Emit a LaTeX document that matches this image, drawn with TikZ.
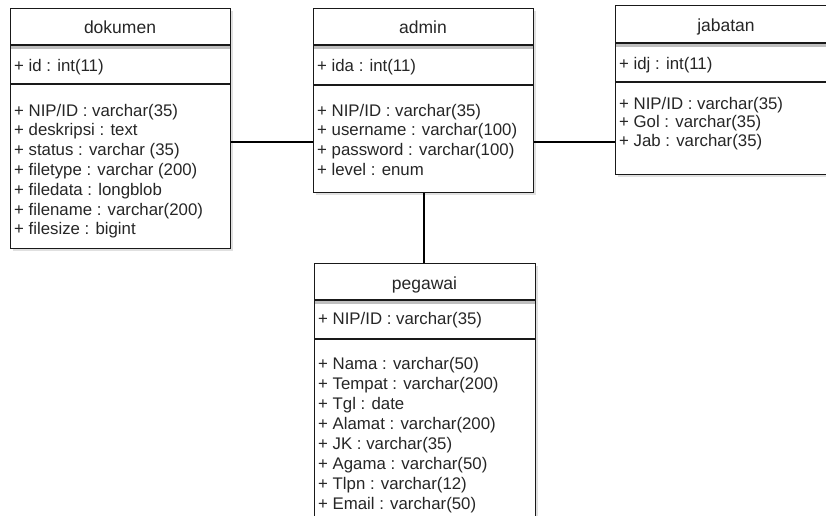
\documentclass[tikz,border=0pt]{standalone}
\usepackage{fontspec}
\setmainfont{Liberation Sans}
\begin{document}
\begin{tikzpicture}[x=1pt,y=-1pt,
  box/.style={draw=black!90, line width=1.2pt, fill=white, rectangle, anchor=north west, inner sep=0pt},
  shadowbox/.style={fill=black!12, draw=none, rectangle, anchor=north west, inner sep=0pt},
  divider/.style={draw=black!90, line width=1.2pt},
  hshadow/.style={draw=black!25, line width=2.5pt},
  title/.style={anchor=base, inner sep=0pt, font=\fontsize{17.5}{20}\selectfont, text=black!85},
  attr/.style={anchor=base west, inner sep=0pt, font=\fontsize{16.8}{20}\selectfont, text=black!85},
  link/.style={draw=black, line width=1.2pt}
]
\clip (0,0) rectangle (826,515);
\fill[white] (0,0) rectangle (826,515);

% shadows
\node[shadowbox, minimum width=220pt, minimum height=240pt] (dokS) at (13,11) {};
\node[shadowbox, minimum width=220pt, minimum height=184pt] (admS) at (316,11) {};
\node[shadowbox, minimum width=230pt, minimum height=169pt] (jabS) at (618,8) {};
\node[shadowbox, minimum width=221pt, minimum height=270pt] (pegS) at (317,266) {};

% boxes
\node[box, minimum width=220pt, minimum height=240pt] (dok) at (10,8) {};
\node[box, minimum width=220pt, minimum height=184pt] (adm) at (313,8) {};
\node[box, minimum width=230pt, minimum height=169pt] (jab) at (615,5) {};
\node[box, minimum width=221pt, minimum height=270pt] (peg) at (314,263) {};

% header shadows
\draw[hshadow] ([xshift=1pt]dok.west |- 0,47.5) -- ([xshift=-1pt]dok.east |- 0,47.5);
\draw[hshadow] ([xshift=1pt]adm.west |- 0,47.5) -- ([xshift=-1pt]adm.east |- 0,47.5);
\draw[hshadow] ([xshift=1pt]jab.west |- 0,45.5) -- ([xshift=-1pt]jab.east |- 0,45.5);
\draw[hshadow] ([xshift=1pt]peg.west |- 0,302.5) -- ([xshift=-1pt]peg.east |- 0,302.5);

% dividers
\draw[divider] (dok.west |- 0,45) -- (dok.east |- 0,45);
\draw[divider] (dok.west |- 0,84) -- (dok.east |- 0,84);
\draw[divider] (adm.west |- 0,45) -- (adm.east |- 0,45);
\draw[divider] (adm.west |- 0,85) -- (adm.east |- 0,85);
\draw[divider] (jab.west |- 0,43) -- (jab.east |- 0,43);
\draw[divider] (jab.west |- 0,82) -- (jab.east |- 0,82);
\draw[divider] (peg.west |- 0,300) -- (peg.east |- 0,300);
\draw[divider] (peg.west |- 0,339) -- (peg.east |- 0,339);

% dokumen
\node[title] (dokT) at (120,33) {dokumen};
\node[attr] (dok0) at (14,71) {+ id : int(11)};
\node[attr] (dok1) at (14,116) {+ NIP/ID : varchar(35)};
\node[attr] (dok2) at (14,135.8) {+ deskripsi : text};
\node[attr] (dok3) at (14,155.6) {+ status : varchar (35)};
\node[attr] (dok4) at (14,175.4) {+ filetype : varchar (200)};
\node[attr] (dok5) at (14,195.2) {+ filedata : longblob};
\node[attr] (dok6) at (14,215) {+ filename : varchar(200)};
\node[attr] (dok7) at (14,234.8) {+ filesize : bigint};

% admin
\node[title] (admT) at (423,33) {admin};
\node[attr] (adm0) at (317,71) {+ ida : int(11)};
\node[attr] (adm1) at (317,116) {+ NIP/ID : varchar(35)};
\node[attr] (adm2) at (317,135.8) {+ username : varchar(100)};
\node[attr] (adm3) at (317,155.6) {+ password : varchar(100)};
\node[attr] (adm4) at (317,175.4) {+ level : enum};

% jabatan
\node[title] (jabT) at (726,31) {jabatan};
\node[attr] (jab0) at (619,69) {+ idj : int(11)};
\node[attr] (jab1) at (619,109) {+ NIP/ID : varchar(35)};
\node[attr] (jab2) at (619,127.5) {+ Gol : varchar(35)};
\node[attr] (jab3) at (619,146) {+ Jab : varchar(35)};

% pegawai
\node[title] (pegT) at (424.5,289) {pegawai};
\node[attr] (peg0) at (318,324) {+ NIP/ID : varchar(35)};
\node[attr] (peg1) at (318,369) {+ Nama : varchar(50)};
\node[attr] (peg2) at (318,389) {+ Tempat : varchar(200)};
\node[attr] (peg3) at (318,409) {+ Tgl : date};
\node[attr] (peg4) at (318,429) {+ Alamat : varchar(200)};
\node[attr] (peg5) at (318,449) {+ JK : varchar(35)};
\node[attr] (peg6) at (318,469) {+ Agama : varchar(50)};
\node[attr] (peg7) at (318,489) {+ Tlpn : varchar(12)};
\node[attr] (peg8) at (318,509) {+ Email : varchar(50)};

% connectors
\draw[link] (dok.east |- 0,142) -- (adm.west |- 0,142);
\draw[link] (adm.east |- 0,142) -- (jab.west |- 0,142);
\draw[link] (adm.south -| 424,0) -- (peg.north -| 424,0);
\end{tikzpicture}
\end{document}
